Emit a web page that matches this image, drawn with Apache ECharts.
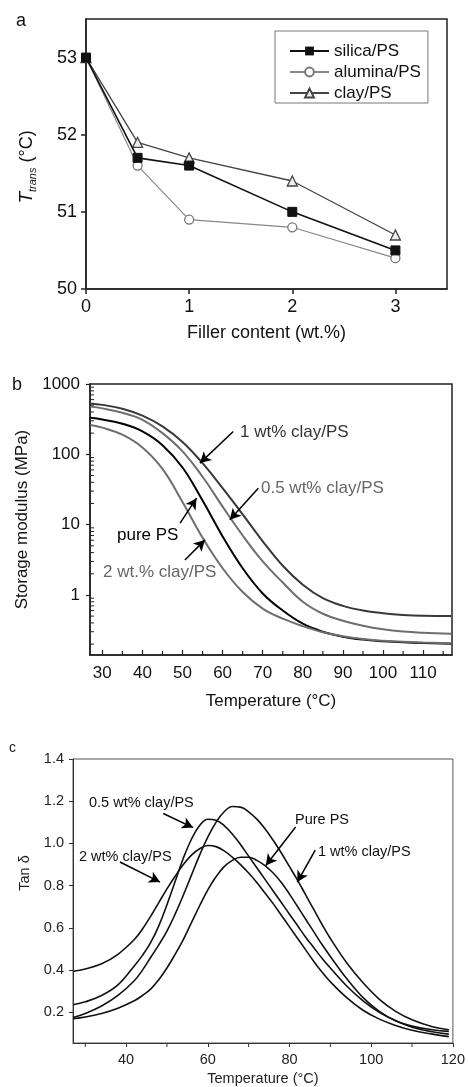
<!DOCTYPE html>
<html><head><meta charset="utf-8">
<script src="https://cdn.jsdelivr.net/npm/echarts@6/dist/echarts.min.js"></script>
<style>html,body{margin:0;padding:0;background:#fff}#c{width:468px;height:1087px}</style>
</head><body><div id="c"></div>
<script>
// ---------- Panel a ----------
const aX = [0, 0.5, 1, 2, 3];
const aSilica = [53, 51.7, 51.6, 51.0, 50.5];
const aAlumina = [53, 51.6, 50.9, 50.8, 50.4];
const aClay = [53, 51.9, 51.7, 51.4, 50.7];

// ---------- Panel b (storage modulus, MPa) ----------
const bT = [27, 30, 35, 40, 45, 50, 55, 60, 65, 70, 75, 80, 85, 90, 95, 100, 105, 110, 117];
const b1wt = [530, 505, 445, 355, 250, 150, 75, 33, 14, 5.8, 2.6, 1.4, 0.9, 0.7, 0.6, 0.55, 0.52, 0.505, 0.5];
const b05wt = [477, 450, 390, 310, 200, 110, 48, 18, 7, 3.0, 1.5, 0.8, 0.54, 0.43, 0.365, 0.325, 0.302, 0.29, 0.28];
const bPure = [330, 312, 272, 212, 135, 65, 22, 6.8, 2.4, 1.05, 0.6, 0.39, 0.3, 0.255, 0.232, 0.22, 0.212, 0.207, 0.203];
const b2wt = [262, 240, 190, 125, 62, 21, 6.5, 2.4, 1.1, 0.64, 0.46, 0.36, 0.295, 0.258, 0.236, 0.224, 0.216, 0.211, 0.206];
const bMinorX = [35, 45, 55, 65, 75, 85, 95, 105, 115];
const bMinorY = [0.2,0.3,0.4,0.5,0.6,0.7,0.8,0.9, 2,3,4,5,6,7,8,9, 20,30,40,50,60,70,80,90, 200,300,400,500,600,700,800,900];

// ---------- Panel c (tan delta) ----------
const cT = [27, 30, 34, 38, 42, 44, 46, 48, 50, 52, 54, 56, 58, 60, 62, 64, 66, 68, 70, 72, 74, 76, 78, 80, 82, 84, 86, 88, 90, 94, 98, 102, 106, 110, 115, 119];
const c2wt = [0.395, 0.405, 0.43, 0.475, 0.545, 0.595, 0.655, 0.72, 0.785, 0.845, 0.9, 0.945, 0.975, 0.99, 0.985, 0.965, 0.935, 0.9, 0.86, 0.815, 0.765, 0.715, 0.66, 0.605, 0.55, 0.495, 0.44, 0.39, 0.345, 0.27, 0.21, 0.168, 0.138, 0.115, 0.097, 0.085];
const c05wt = [0.236, 0.25, 0.28, 0.33, 0.42, 0.47, 0.53, 0.61, 0.71, 0.82, 0.93, 1.02, 1.085, 1.115, 1.11, 1.085, 1.045, 0.995, 0.94, 0.885, 0.83, 0.775, 0.72, 0.665, 0.61, 0.555, 0.505, 0.455, 0.41, 0.325, 0.255, 0.2, 0.16, 0.13, 0.108, 0.097];
const c1wt = [0.176, 0.195, 0.23, 0.28, 0.35, 0.4, 0.46, 0.52, 0.585, 0.665, 0.755, 0.85, 0.945, 1.03, 1.1, 1.15, 1.175, 1.172, 1.15, 1.115, 1.07, 1.015, 0.955, 0.89, 0.825, 0.755, 0.685, 0.615, 0.55, 0.435, 0.34, 0.262, 0.205, 0.165, 0.132, 0.118];
const cPure = [0.17, 0.178, 0.195, 0.22, 0.255, 0.28, 0.31, 0.355, 0.41, 0.475, 0.545, 0.625, 0.705, 0.78, 0.842, 0.89, 0.92, 0.935, 0.935, 0.92, 0.895, 0.86, 0.815, 0.76, 0.7, 0.64, 0.58, 0.52, 0.465, 0.36, 0.27, 0.205, 0.16, 0.135, 0.118, 0.11];
const cMinorX = [30, 50, 70, 90, 110];

// annotation arrows [startX, startY, endX, endY]
const bArrows = [[62.65, 211, 54.35, 75], [68.9, 33, 61.8, 11.7], [49.4, 10.5, 53.5, 23.8], [50.6, 3.15, 55.6, 6.07]];
const cArrows = [[49.1, 1.142, 56.4, 1.075], [38.5, 0.912, 48.3, 0.817], [81.5, 1.078, 74.2, 0.896], [86.3, 0.968, 81.9, 0.817]];

const FONT = '"Liberation Sans", Arial, Helvetica, sans-serif';
const B_XMIN = 26.93, B_XMAX = 117.2, B_YMIN = 0.14, B_YMAX = 1000;
const C_XMIN = 27, C_XMAX = 120, C_YMIN = 0.055, C_YMAX = 1.4;

const pair = (xs, ys) => xs.map((x, i) => [x, ys[i]]);
const arrowLine = (arr) => ({
  silent: true, animation: false, symbol: ['none', 'arrow'], symbolSize: [9, 11],
  lineStyle: { type: 'solid', color: '#000', width: 1.5 },
  label: { show: false }, emphasis: { disabled: true },
  data: arr.map(a => [{ coord: [a[0], a[1]] }, { coord: [a[2], a[3]] }])
});

const chart = echarts.init(document.getElementById('c'), null, { renderer: 'canvas' });
const axisTxt = (size) => ({ color: '#111', fontSize: size, fontFamily: FONT });

const option = {
  animation: false,
  backgroundColor: '#fff',
  grid: [
    { left: 86, top: 19, width: 361, height: 270, show: true, borderColor: '#222', borderWidth: 1.5 },
    { left: 90, top: 384, width: 362, height: 271, show: true, borderColor: '#222', borderWidth: 1.5 },
    { left: 73, top: 759, width: 383, height: 284, show: true, borderColor: '#555', borderWidth: 1 }
  ],
  xAxis: [
    { gridIndex: 0, type: 'value', min: 0, max: 3.5, interval: 1,
      axisLine: { lineStyle: { color: '#222', width: 1.5 } },
      axisTick: { inside: false, length: 5, lineStyle: { color: '#222', width: 1.5 } },
      axisLabel: { ...axisTxt(18), margin: 9, showMaxLabel: false },
      splitLine: { show: false },
      name: 'Filler content (wt.%)', nameLocation: 'middle', nameGap: 35,
      nameTextStyle: { color: '#111', fontSize: 18, fontFamily: FONT } },
    { gridIndex: 1, type: 'value', min: B_XMIN, max: B_XMAX, splitNumber: 9,
      axisLine: { lineStyle: { color: '#222', width: 1.5 } },
      axisTick: { inside: true, length: 5, lineStyle: { color: '#222', width: 1.2 } },
      axisLabel: { ...axisTxt(17), margin: 10, showMinLabel: false, showMaxLabel: false },
      splitLine: { show: false },
      name: 'Temperature (°C)', nameLocation: 'middle', nameGap: 38,
      nameTextStyle: { color: '#111', fontSize: 17, fontFamily: FONT } },
    { gridIndex: 2, type: 'value', min: C_XMIN, max: C_XMAX, splitNumber: 5,
      axisLine: { lineStyle: { color: '#333', width: 1 } },
      axisTick: { inside: false, length: 4, lineStyle: { color: '#333', width: 1 } },
      axisLabel: { ...axisTxt(14.5), color: '#222', margin: 9, showMinLabel: false },
      splitLine: { show: false },
      name: 'Temperature (°C)', nameLocation: 'middle', nameGap: 28,
      nameTextStyle: { color: '#222', fontSize: 14.5, fontFamily: FONT } }
  ],
  yAxis: [
    { gridIndex: 0, type: 'value', min: 50, max: 53.5, interval: 1,
      axisLine: { lineStyle: { color: '#222', width: 1.5 } },
      axisTick: { inside: false, length: 5, lineStyle: { color: '#222', width: 1.5 } },
      axisLabel: { ...axisTxt(18), margin: 9, showMaxLabel: false },
      splitLine: { show: false },
      name: '{t|T}{s|trans}{n| (°C)}', nameLocation: 'middle', nameGap: 48, nameRotate: 90,
      nameTextStyle: { color: '#111', fontFamily: FONT, padding: [0, 26, 0, 0],
        rich: { t: { fontSize: 19, fontStyle: 'italic', lineHeight: 22, fontFamily: FONT, color: '#111' },
                s: { fontSize: 11, fontStyle: 'italic', lineHeight: 11, verticalAlign: 'bottom', fontFamily: FONT, color: '#111' },
                n: { fontSize: 18, lineHeight: 22, fontFamily: FONT, color: '#111' } } } },
    { gridIndex: 1, type: 'log', logBase: 10, min: B_YMIN, max: B_YMAX,
      axisLine: { lineStyle: { color: '#222', width: 1.5 } },
      axisTick: { inside: false, length: 4, lineStyle: { color: '#222', width: 1.2 } },
      axisLabel: { ...axisTxt(17), margin: 10, showMinLabel: false, formatter: v => String(Math.round(v)) },
      splitLine: { show: false },
      name: 'Storage modulus (MPa)', nameLocation: 'middle', nameGap: 55, nameRotate: 90,
      nameTextStyle: { color: '#111', fontSize: 17, fontFamily: FONT } },
    { gridIndex: 2, type: 'value', min: C_YMIN, max: C_YMAX, splitNumber: 7,
      axisLine: { lineStyle: { color: '#333', width: 1 } },
      axisTick: { inside: false, length: 4, lineStyle: { color: '#333', width: 1 } },
      axisLabel: { ...axisTxt(14.5), color: '#222', margin: 9, showMinLabel: false, formatter: v => v.toFixed(1) },
      splitLine: { show: false } }
  ],
  legend: {
    orient: 'vertical', left: 275, top: 31,
    data: ['silica/PS', 'alumina/PS', 'clay/PS'],
    borderColor: '#777', borderWidth: 1, padding: [10, 7, 0, 14],
    itemGap: 1, itemWidth: 39, itemHeight: 11,
    textStyle: { color: '#111', fontSize: 17, fontFamily: FONT, lineHeight: 20 }
  },
  series: [
    { name: 'silica/PS', type: 'line', xAxisIndex: 0, yAxisIndex: 0, data: pair(aX, aSilica),
      symbol: 'rect', symbolSize: 9, lineStyle: { color: '#111', width: 1.6 },
      itemStyle: { color: '#111', borderColor: '#111' }, z: 4 },
    { name: 'alumina/PS', type: 'line', xAxisIndex: 0, yAxisIndex: 0, data: pair(aX, aAlumina),
      symbol: 'circle', symbolSize: 9, lineStyle: { color: '#888', width: 1.2 },
      itemStyle: { color: '#fff', borderColor: '#777', borderWidth: 1.3 }, z: 3 },
    { name: 'clay/PS', type: 'line', xAxisIndex: 0, yAxisIndex: 0, data: pair(aX, aClay),
      symbol: 'triangle', symbolSize: 10, lineStyle: { color: '#444', width: 1.3 },
      itemStyle: { color: '#eee', borderColor: '#444', borderWidth: 1.3 }, z: 3 },

    { name: 'b1', type: 'line', xAxisIndex: 1, yAxisIndex: 1, data: pair(bT, b1wt), smooth: 0.4, showSymbol: false,
      lineStyle: { color: '#383838', width: 2 }, markLine: arrowLine([bArrows[0]]) },
    { name: 'b05', type: 'line', xAxisIndex: 1, yAxisIndex: 1, data: pair(bT, b05wt), smooth: 0.4, showSymbol: false,
      lineStyle: { color: '#6e6e6e', width: 2 }, markLine: arrowLine([bArrows[1]]) },
    { name: 'bP', type: 'line', xAxisIndex: 1, yAxisIndex: 1, data: pair(bT, bPure), smooth: 0.4, showSymbol: false,
      lineStyle: { color: '#000', width: 2 }, markLine: arrowLine([bArrows[2]]) },
    { name: 'b2', type: 'line', xAxisIndex: 1, yAxisIndex: 1, data: pair(bT, b2wt), smooth: 0.4, showSymbol: false,
      lineStyle: { color: '#6e6e6e', width: 2 }, markLine: arrowLine([bArrows[3]]) },
    { type: 'custom', xAxisIndex: 1, yAxisIndex: 1, silent: true, clip: false, z: 5,
      data: bMinorX.map(v => [v, B_YMIN]),
      renderItem: (p, api) => { const pt = api.coord([api.value(0), B_YMIN]);
        return { type: 'line', shape: { x1: pt[0], y1: pt[1], x2: pt[0], y2: pt[1] - 4 }, style: { stroke: '#222', lineWidth: 1.2 } }; } },
    { type: 'custom', xAxisIndex: 1, yAxisIndex: 1, silent: true, clip: false, z: 5,
      data: bMinorY.map(v => [B_XMIN, v]),
      renderItem: (p, api) => { const pt = api.coord([B_XMIN, api.value(1)]);
        return { type: 'line', shape: { x1: pt[0], y1: pt[1], x2: pt[0] + 4, y2: pt[1] }, style: { stroke: '#222', lineWidth: 1 } }; } },

    { name: 'c2', type: 'line', xAxisIndex: 2, yAxisIndex: 2, data: pair(cT, c2wt), smooth: 0.4, showSymbol: false,
      lineStyle: { color: '#111', width: 1.6 }, markLine: arrowLine([cArrows[1]]) },
    { name: 'c05', type: 'line', xAxisIndex: 2, yAxisIndex: 2, data: pair(cT, c05wt), smooth: 0.4, showSymbol: false,
      lineStyle: { color: '#111', width: 1.6 }, markLine: arrowLine([cArrows[0]]) },
    { name: 'c1', type: 'line', xAxisIndex: 2, yAxisIndex: 2, data: pair(cT, c1wt), smooth: 0.4, showSymbol: false,
      lineStyle: { color: '#111', width: 1.6 }, markLine: arrowLine([cArrows[3]]) },
    { name: 'cP', type: 'line', xAxisIndex: 2, yAxisIndex: 2, data: pair(cT, cPure), smooth: 0.4, showSymbol: false,
      lineStyle: { color: '#111', width: 1.6 }, markLine: arrowLine([cArrows[2]]) },
    { type: 'custom', xAxisIndex: 2, yAxisIndex: 2, silent: true, clip: false, z: 5,
      data: cMinorX.map(v => [v, C_YMIN]),
      renderItem: (p, api) => { const pt = api.coord([api.value(0), C_YMIN]);
        return { type: 'line', shape: { x1: pt[0], y1: pt[1], x2: pt[0], y2: pt[1] + 4 }, style: { stroke: '#333', lineWidth: 1 } }; } }
  ],
  graphic: [
    { type: 'text', x: 16, y: 21, style: { text: 'a', fill: '#111', font: '18px ' + FONT, verticalAlign: 'middle' } },
    { type: 'text', x: 12, y: 385, style: { text: 'b', fill: '#111', font: '18px ' + FONT, verticalAlign: 'middle' } },
    { type: 'text', x: 9, y: 748, style: { text: 'c', fill: '#222', font: '14px ' + FONT, verticalAlign: 'middle' } },
    { type: 'text', x: 240, y: 432, style: { text: '1 wt% clay/PS', fill: '#333', font: '17px ' + FONT, verticalAlign: 'middle' } },
    { type: 'text', x: 261, y: 488, style: { text: '0.5 wt% clay/PS', fill: '#666', font: '17px ' + FONT, verticalAlign: 'middle' } },
    { type: 'text', x: 117, y: 535, style: { text: 'pure PS', fill: '#000', font: '17px ' + FONT, verticalAlign: 'middle' } },
    { type: 'text', x: 103, y: 572, style: { text: '2 wt.% clay/PS', fill: '#666', font: '17px ' + FONT, verticalAlign: 'middle' } },
    { type: 'text', x: 89, y: 803, style: { text: '0.5 wt% clay/PS', fill: '#111', font: '14.5px ' + FONT, verticalAlign: 'middle' } },
    { type: 'text', x: 79, y: 857, style: { text: '2 wt% clay/PS', fill: '#111', font: '14.5px ' + FONT, verticalAlign: 'middle' } },
    { type: 'text', x: 295, y: 820, style: { text: 'Pure PS', fill: '#111', font: '14.5px ' + FONT, verticalAlign: 'middle' } },
    { type: 'text', x: 318, y: 852, style: { text: '1 wt% clay/PS', fill: '#111', font: '14.5px ' + FONT, verticalAlign: 'middle' } },
    { type: 'text', x: 25, y: 873, rotation: Math.PI / 2,
      style: { text: 'Tan δ', fill: '#222', font: '14.5px ' + FONT, align: 'center', verticalAlign: 'middle' } }
  ]
};
chart.setOption(option);
</script></body></html>
